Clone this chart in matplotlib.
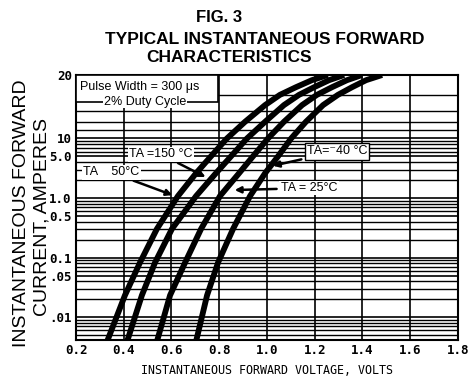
import matplotlib.pyplot as plt
import numpy as np
from matplotlib.patches import Rectangle
from matplotlib.ticker import FixedLocator, NullFormatter

# forward current levels (A) where the curves were read
current = [0.0038, 0.0233, 0.0826, 0.304, 1.08, 2.61, 5.0, 10, 12.0, 14.4, 16.1, 17.5, 18.9, 20.0]

# forward voltage (V) of each curve at those currents
v_150 = [0.329, 0.405, 0.468, 0.539, 0.627, 0.703, 0.765, 0.832, 0.908, 0.992, 1.054, 1.121, 1.188, 1.255]
v_100 = [0.413, 0.476, 0.531, 0.602, 0.703, 0.786, 0.849, 0.916, 0.992, 1.071, 1.134, 1.197, 1.260, 1.323]
v_25 = [0.538, 0.594, 0.657, 0.724, 0.803, 0.883, 0.941, 1.004, 1.071, 1.147, 1.209, 1.272, 1.335, 1.398]
v_m40 = [0.702, 0.749, 0.795, 0.858, 0.929, 0.992, 1.046, 1.101, 1.163, 1.235, 1.297, 1.356, 1.415, 1.482]

x_ticks = [0.2, 0.4, 0.6, 0.8, 1.0, 1.2, 1.4, 1.6, 1.8]
y_ticks = [0.01, 0.05, 0.1, 0.5, 1.0, 5.0, 10, 20]
y_labels = ['.01', '.05', '0.1', '0.5', '1.0', '5.0', '10', '20']
y_top_minor = [11, 12, 13.5, 16]

# the printed graph paper: log below 10 A, the 10-20 A band stretched to a full decade
K = 3.54


def fwd(y):
    ly = np.log10(np.clip(np.asarray(y, float), 1e-12, None))
    return np.where(ly <= 1, ly, 1 + (ly - 1) * K)


def inv(f):
    f = np.asarray(f, float)
    return np.where(f <= 1, 10 ** f, 10 ** (1 + (f - 1) / K))


sans = ['Liberation Sans', 'DejaVu Sans']
mono = 'DejaVu Sans Mono'

fig = plt.figure(figsize=(4.68, 3.79), dpi=100)
ax = fig.add_axes([0.1624, 0.1029, 0.8162, 0.6992])
ax.set_yscale('function', functions=(fwd, inv))
ax.set_xlim(0.2, 1.8)
ax.set_ylim(0.00414, 20)

minor = [m * 10.0 ** k for k in range(-3, 1) for m in range(2, 10)]
minor = [v for v in minor if 0.0042 < v < 10] + y_top_minor
ax.yaxis.set_major_locator(FixedLocator(y_ticks))
ax.yaxis.set_minor_locator(FixedLocator(minor))
ax.yaxis.set_minor_formatter(NullFormatter())
ax.set_yticklabels(y_labels)
ax.set_xticks(x_ticks)
ax.set_xticklabels([f'{v:.1f}' for v in x_ticks])
ax.tick_params(which='both', length=0, pad=3)
for lab in ax.get_xticklabels() + ax.get_yticklabels():
    lab.set_fontfamily(mono)
    lab.set_fontweight('bold')
    lab.set_fontsize(9)

ax.grid(which='major', axis='both', color='black', lw=1.2)
ax.grid(which='minor', axis='y', color='black', lw=1.0)
for s in ax.spines.values():
    s.set_linewidth(1.5)

for v in [v_150, v_100, v_25, v_m40]:
    ax.plot(v, current, color='black', lw=4.2, solid_capstyle='butt', zorder=3)

# pulse box in the corner
ax.add_patch(Rectangle((0, 0.897), 0.372, 0.103, transform=ax.transAxes,
                       facecolor='white', edgecolor='black', lw=1.2, zorder=4))
ax.text(0.01, 0.955, 'Pulse Width = 300 μs', transform=ax.transAxes, fontsize=9,
        family=sans, va='center', ha='left', zorder=5)
ax.text(0.18, 0.9, '2% Duty Cycle', transform=ax.transAxes, fontsize=9,
        family=sans, va='center', ha='center', zorder=5,
        bbox=dict(facecolor='white', edgecolor='none', pad=0.5))

arrow = dict(arrowstyle='-|>', color='black', lw=1.8, mutation_scale=9)
white = dict(facecolor='white', edgecolor='none', pad=1)

ax.annotate('TA =150 °C', xy=(0.753, 2.15), xytext=(0.556, 5.4), fontsize=9,
            family=sans, ha='center', va='center', bbox=white, arrowprops=arrow, zorder=5)
ax.annotate('TA    50°C', xy=(0.615, 1.08), xytext=(0.229, 2.7), fontsize=9,
            family=sans, ha='left', va='center', bbox=white, arrowprops=arrow, zorder=5)
ax.annotate('TA=⁻40 °C', xy=(1.013, 3.4), xytext=(1.293, 6.07), fontsize=9,
            family=sans, ha='center', va='center', arrowprops=arrow, zorder=5,
            bbox=dict(facecolor='white', edgecolor='black', pad=1.5, lw=1))
ax.annotate('TA = 25°C', xy=(0.853, 1.36), xytext=(1.176, 1.47), fontsize=9,
            family=sans, ha='center', va='center', bbox=white, arrowprops=arrow, zorder=5)

ax.set_xlabel('INSTANTANEOUS FORWARD VOLTAGE, VOLTS', family=mono, fontsize=8.4,
              labelpad=5)

fig.text(22 / 468, 1 - 213 / 379, 'INSTANTANEOUS FORWARD', rotation=90, fontsize=14,
         family=sans, ha='center', va='center')
fig.text(42 / 468, 1 - 217 / 379, 'CURRENT, AMPERES', rotation=90, fontsize=14,
         family=sans, ha='center', va='center')

fig.text(219 / 468, 1 - 17 / 379, 'FIG. 3', fontsize=12, weight='bold', family=sans,
         ha='center', va='center')
fig.text(265 / 468, 1 - 39 / 379, 'TYPICAL INSTANTANEOUS FORWARD', fontsize=12.5,
         weight='bold', family=sans, ha='center', va='center')
fig.text(229 / 468, 1 - 58 / 379, 'CHARACTERISTICS', fontsize=12.5, weight='bold',
         family=sans, ha='center', va='center')

plt.savefig('out.png', dpi=100)
